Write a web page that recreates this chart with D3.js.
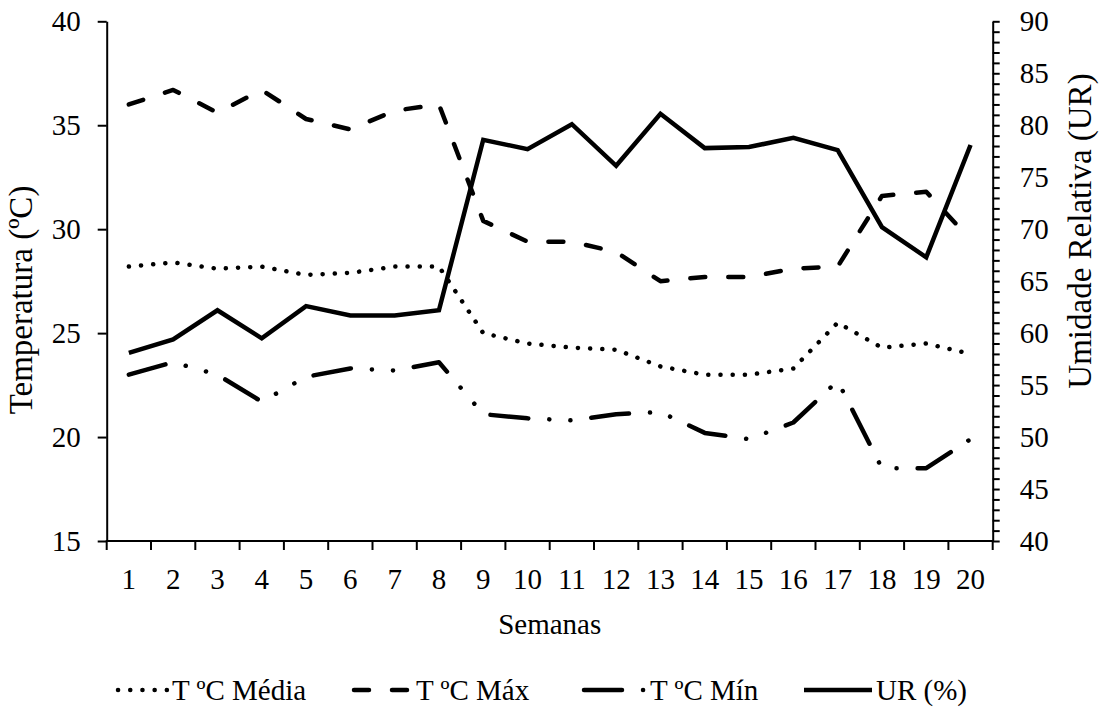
<!DOCTYPE html>
<html><head><meta charset="utf-8">
<script src="https://cdn.jsdelivr.net/npm/d3@7"></script>
<style>
body{margin:0;background:#fff;}
text{font-family:"Liberation Serif","Times New Roman",serif;fill:#000;}
</style>
</head><body>
<svg id="chart" width="1100" height="716"></svg>
<script>
// ---- data ----
const weeks = ["1","2","3","4","5","6","7","8","9","10","11","12","13","14","15","16","17","18","19","20"];
const tMedia = [28.2,28.4,28.1,28.2,27.8,27.9,28.2,28.2,25.0,24.5,24.3,24.2,23.4,23.0,23.0,23.3,25.5,24.3,24.5,24.0];
const tMax   = [36.0,36.7,35.6,36.7,35.3,34.8,35.7,36.0,30.4,29.4,29.4,28.9,27.5,27.7,27.7,28.1,28.2,31.6,31.8,29.5];
const tMin   = [23.0,23.6,23.0,21.7,22.9,23.3,23.2,23.6,21.1,20.9,20.8,21.1,21.2,20.2,19.9,20.7,22.7,18.5,18.5,19.9];
const ur     = [58.1,59.4,62.2,59.5,62.6,61.7,61.7,62.2,78.6,77.7,80.1,76.1,81.1,77.8,77.9,78.8,77.6,70.2,67.3,78.1];
const leftTicks = [15,20,25,30,35,40];
const rightTicks = [40,45,50,55,60,65,70,75,80,85,90];
const seriesNames = ["T ºC Média","T ºC Máx","T ºC Mín","UR (%)"];

const svg = d3.select("#chart");
const L = 106.7, R = 992.7, T = 21.3, B = 541;
const FS = 29;

const x = d3.scaleBand().domain(weeks).range([L, R]).padding(0);
const yL = d3.scaleLinear().domain([15, 40]).range([B, T]);
const yR = d3.scaleLinear().domain([40, 90]).range([B, T]);
const cx = d => x(d) + x.bandwidth() / 2;

// ---- axes ----
const gx = svg.append("g").attr("transform", `translate(0,${B})`)
  .call(d3.axisBottom(x).tickSize(0).tickPadding(27));
gx.select(".domain").remove();
gx.selectAll("text").attr("font-size", FS).attr("font-family", null);
const bounds = weeks.map(w => x(w)).concat([x.range()[1]]);
svg.append("g").selectAll("line").data(bounds).join("line")
  .attr("x1", d => d).attr("x2", d => d).attr("y1", B).attr("y2", B + 9)
  .attr("stroke", "#000").attr("stroke-width", 2);
svg.append("line").attr("x1", L - 1).attr("x2", R + 1).attr("y1", B).attr("y2", B)
  .attr("stroke", "#000").attr("stroke-width", 2);

const gl = svg.append("g").attr("transform", `translate(${L},0)`)
  .call(d3.axisLeft(yL).tickValues(leftTicks).tickSize(9).tickPadding(17).tickSizeOuter(0));
gl.selectAll("text").attr("font-size", FS).attr("font-family", null);
gl.selectAll("line,path").attr("stroke", "#000").attr("stroke-width", 2);

const minor = d3.range(40, 91, 1);
const gr = svg.append("g").attr("transform", `translate(${R},0)`)
  .call(d3.axisRight(yR).tickValues(minor).tickSize(7).tickPadding(20).tickSizeOuter(0)
        .tickFormat(d => rightTicks.includes(d) ? d : ""));
gr.selectAll("text").attr("font-size", FS).attr("font-family", null);
gr.selectAll("line,path").attr("stroke", "#000").attr("stroke-width", 2);

// titles
svg.append("text").attr("transform", `translate(32,300) rotate(-90)`)
  .attr("text-anchor", "middle").attr("font-size", 33).text("Temperatura (ºC)");
svg.append("text").attr("transform", `translate(1091,231) rotate(-90)`)
  .attr("text-anchor", "middle").attr("font-size", 33).text("Umidade Relativa (UR)");
svg.append("text").attr("x", (L + R) / 2).attr("y", 634)
  .attr("text-anchor", "middle").attr("font-size", FS).text("Semanas");

// ---- lines ----
const styles = [
  {dash: "0.1 12.1", cap: "round", join: "round"},
  {dash: "15 23", cap: "round", join: "round"},
  {dash: "38 21 0.1 21 0.1 21", cap: "round", join: "round"},
  {dash: null, cap: "butt", join: "miter"}
];
const SW = 4.5;
const lineL = d3.line().x((d, i) => cx(weeks[i])).y(d => yL(d));
const lineR = d3.line().x((d, i) => cx(weeks[i])).y(d => yR(d));
const series = [
  {vals: tMedia, gen: lineL},
  {vals: tMax, gen: lineL},
  {vals: tMin, gen: lineL},
  {vals: ur, gen: lineR}
];
series.forEach((s, k) => {
  svg.append("path").attr("d", s.gen(s.vals)).attr("fill", "none")
    .attr("stroke", "#000").attr("stroke-width", SW)
    .attr("stroke-dasharray", styles[k].dash)
    .attr("stroke-linecap", styles[k].cap)
    .attr("stroke-linejoin", styles[k].join);
});

// ---- legend ----
const legY = 690;
const legItems = [
  {sx: 118, len: 49, tx: 172},
  {sx: 354, len: 56, tx: 416},
  {sx: 584, len: 60, tx: 650},
  {sx: 804, len: 68, tx: 876}
];
legItems.forEach((it, k) => {
  svg.append("line").attr("x1", it.sx).attr("x2", it.sx + it.len)
    .attr("y1", legY).attr("y2", legY)
    .attr("stroke", "#000").attr("stroke-width", SW)
    .attr("stroke-dasharray", styles[k].dash)
    .attr("stroke-linecap", styles[k].cap);
  svg.append("text").attr("x", it.tx).attr("y", legY + 10)
    .attr("font-size", FS).text(seriesNames[k]);
});
</script>
</body></html>
